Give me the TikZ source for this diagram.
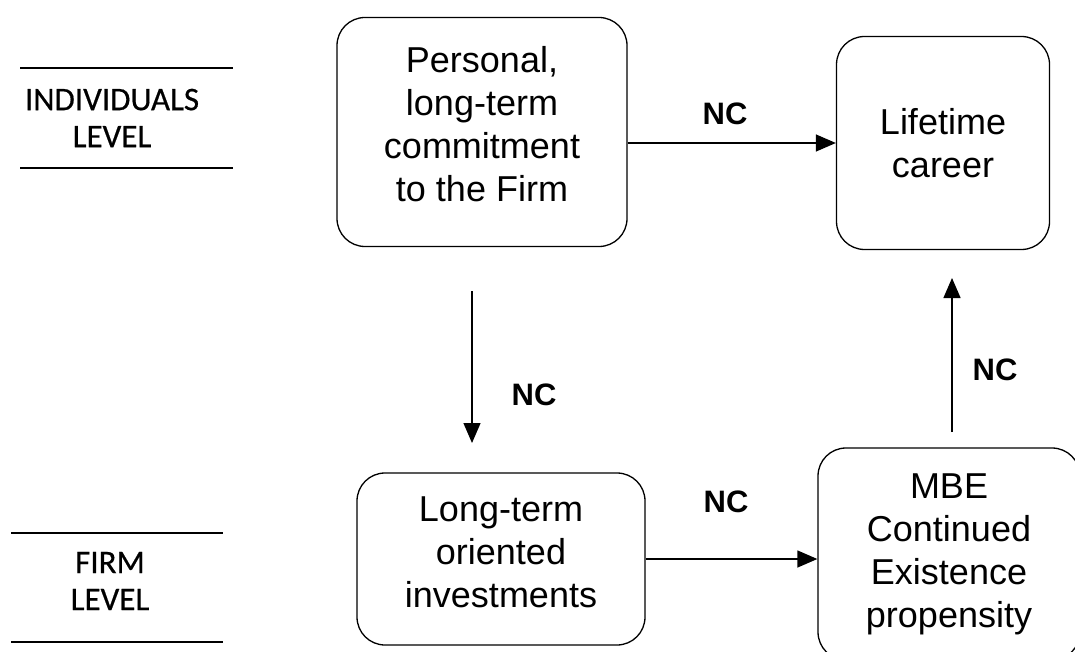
\documentclass[tikz,border=0pt]{standalone}
\usepackage{fontspec}
\setmainfont{Liberation Sans}
\newfontfamily\levelfont{Carlito}[FakeBold=0.5]
\usetikzlibrary{arrows.meta}
% extra depth below the last line, lifts the text a bit
\newcommand{\liftby}[1]{\rule[-#1]{0pt}{0pt}}

\begin{document}
\begin{tikzpicture}[x=1pt,y=-1pt,
    every node/.append style={align=center},
    box/.style={draw,line width=1.3pt,rounded corners=28pt,
        font=\fontsize{36}{43}\selectfont},
    nc/.style={font=\fontsize{31}{34}\selectfont\bfseries},
    lvl/.style={font=\levelfont\fontsize{33}{37}\selectfont},
    arr/.style={-{Triangle[length=20pt,width=17pt]},line width=1.3pt}]
    \useasboundingbox (0,0) rectangle (1075,652);

    % levels
    \node[lvl] (indiv) at (112,118) {INDIVIDUALS\\LEVEL};
    \node[lvl] (firm) at (110,581) {FIRM\\LEVEL};
    \draw[line width=1.3pt] (20,68) -- (233,68) (20,168) -- (233,168);
    \draw[line width=1.3pt] (11,533) -- (223,533) (11,642) -- (223,642);

    \node[box,minimum width=290pt,minimum height=229pt] (commit) at (482,132)
        {Personal,\\long-term\\commitment\\to the Firm\liftby{16pt}};
    \node[box,minimum width=213pt,minimum height=213pt] (life) at (943,143)
        {Lifetime\\career};
    \node[box,minimum width=288pt,minimum height=172pt] (invest) at (501,559)
        {Long-term\\oriented\\investments\liftby{14pt}};
    \node[box,minimum width=262pt,minimum height=212pt] (mbe) at (949,554)
        {MBE\\Continued\\Existence\\propensity};

    \node[nc] (nc1) at (725,114) {NC};
    \node[nc] (nc2) at (534,395) {NC};
    \node[nc] (nc3) at (995,370) {NC};
    \node[nc] (nc4) at (726,502) {NC};

    \coordinate (dtop) at (472,291);
    \coordinate (dend) at (472,443);
    \coordinate (ubot) at (952,432);
    \coordinate (utop) at (952,278);

    \path[arr]
        (commit.east |- life.west) edge (life.west)
        (dtop) edge (dend)
        (ubot) edge (utop)
        (invest.east) edge (invest.east -| mbe.west);
\end{tikzpicture}
\end{document}
